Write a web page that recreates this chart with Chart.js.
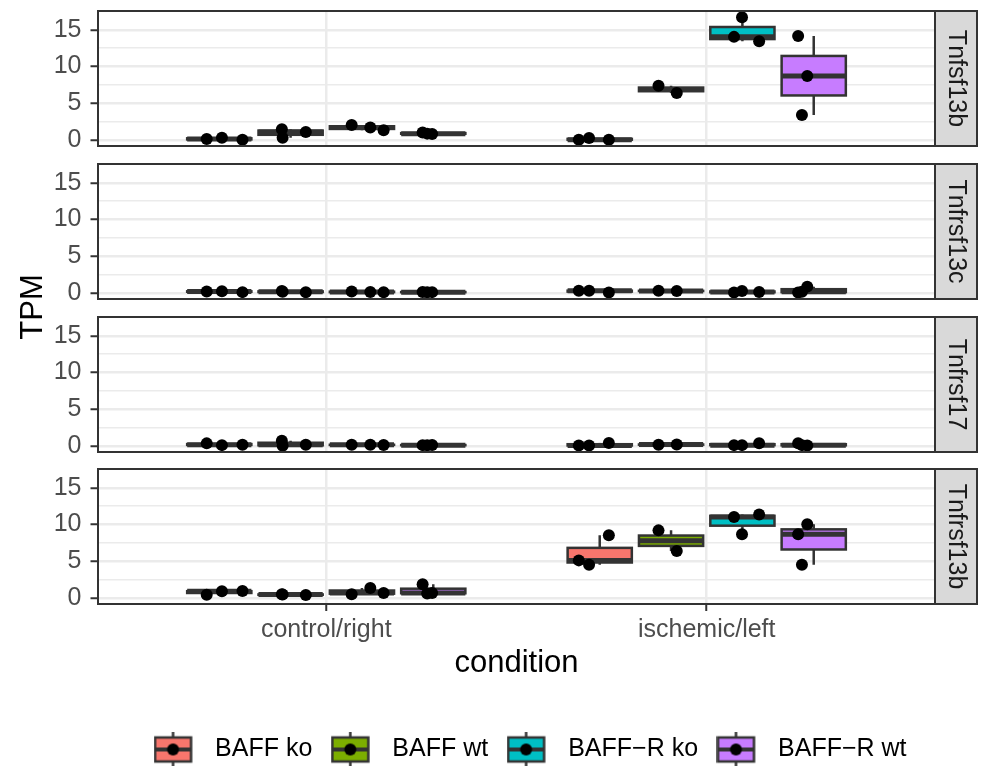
<!DOCTYPE html>
<html>
<head>
<meta charset="utf-8">
<script src="https://cdn.jsdelivr.net/npm/chart.js@4.4.0/dist/chart.umd.min.js"></script>
<style>
  html, body { margin: 0; padding: 0; background: #fff; overflow: hidden; }
  #wrap { position: relative; width: 987px; height: 766px; overflow: hidden; }
  #wrap canvas { position: absolute; left: 0; top: -30px; }
</style>
</head>
<body>
<div id="wrap">
  <canvas id="p0" width="987" height="806"></canvas>
  <canvas id="p1" width="987" height="806"></canvas>
  <canvas id="p2" width="987" height="806"></canvas>
  <canvas id="p3" width="987" height="806"></canvas>
</div>
<script>
const genes = ['Tnfsf13b', 'Tnfrsf13c', 'Tnfrsf17', 'Tnfrsf13b'];
const conditions = ['control/right', 'ischemic/left'];
const groups = ['BAFF ko', 'BAFF wt', 'BAFF\u2212R ko', 'BAFF\u2212R wt'];
const yBreaks = [0, 5, 10, 15];
const yMinor = [2.5, 7.5, 12.5];

// condition index of every sample, one row per group
const sampleCond = [
  [0, 0, 0, 1, 1, 1],
  [0, 0, 0, 1, 1],
  [0, 0, 0, 1, 1, 1],
  [0, 0, 0, 1, 1, 1]
];
// horizontal jitter of each sample (same in all panels)
const jitter = [
  [-0.033, 0.007, 0.061, -0.055, -0.028, 0.024],
  [-0.023, -0.021, 0.040, -0.033, 0.015],
  [-0.027, 0.022, 0.057, -0.022, -0.001, 0.044],
  [-0.028, -0.016, -0.003, -0.041, -0.017, -0.031]
];

// TPM values, one array per group, same order as sampleCond
const tpmTnfsf13b = [
  [0.12, 0.30, 0.00, 0.02, 0.25, 0.02],
  [1.45, 0.30, 1.08, 7.38, 6.38],
  [2.04, 1.67, 1.31, 14.04, 16.73, 13.44],
  [0.99, 0.85, 0.81, 14.17, 8.71, 3.40]
];
const tpmTnfrsf13c = [
  [0.20, 0.22, 0.10, 0.30, 0.30, 0.05],
  [0.25, 0.15, 0.08, 0.28, 0.25],
  [0.20, 0.12, 0.08, 0.05, 0.25, 0.12],
  [0.12, 0.08, 0.10, 0.05, 0.85, 0.15]
];
const tpmTnfrsf17 = [
  [0.34, 0.10, 0.15, 0.05, 0.05, 0.40],
  [0.70, 0.00, 0.15, 0.15, 0.20],
  [0.15, 0.15, 0.12, 0.10, 0.10, 0.35],
  [0.10, 0.08, 0.12, 0.35, 0.05, 0.10]
];
const tpmTnfrsf13b = [
  [0.44, 0.89, 0.93, 5.11, 4.53, 8.52],
  [0.48, 0.45, 0.38, 9.20, 6.38],
  [0.48, 1.34, 0.66, 11.02, 8.66, 11.35],
  [1.84, 0.60, 0.66, 8.66, 10.02, 4.53]
];
const tpm = [tpmTnfsf13b, tpmTnfrsf13c, tpmTnfrsf17, tpmTnfrsf13b];

const colors = ['#F8766D', '#7CAE00', '#00BFC4', '#C77CFF'];
const font = '"Liberation Sans", Arial, sans-serif';
Chart.defaults.font.family = font;

const dodge = 0.75 / groups.length;
const boxW = dodge * 0.9;

// y range like ggplot: data range expanded by 5%
const allVals = tpm.flat(2);
const dataLo = Math.min(...allVals), dataHi = Math.max(...allVals);
const yLo = dataLo - 0.05 * (dataHi - dataLo);
const yHi = dataHi + 0.05 * (dataHi - dataLo);

// layout (page pixels); canvases sit 30px above the page top
const shift = 30;
const canvasH = 806;
const panelTop = [11, 164, 317, 469];
const panelH = 135;
const panelW = 837;
const stripW = 42;
const xLo = 0.4, xHi = 2.6;
const xHiStrip = xHi + (xHi - xLo) * stripW / panelW; // axis runs on under the strip
const textSize = 25, titleSize = 31;
const legendPad = 33.4;
const legendKeyW = 34.1;
const legendH = textSize + legendPad + 10;
const lastAxisH = (canvasH - shift - 4) - legendH - (panelTop[3] + panelH);

function quantile(s, p) {
  const h = (s.length - 1) * p;
  const lo = Math.floor(h);
  const next = lo + 1 < s.length ? s[lo + 1] : s[lo];
  return s[lo] + (h - lo) * (next - s[lo]);
}

function boxStats(vals) {
  const s = vals.slice().sort((a, b) => a - b);
  const q1 = quantile(s, 0.25), med = quantile(s, 0.5), q3 = quantile(s, 0.75);
  const iqr = q3 - q1;
  const lo = Math.min(...s.filter(v => v >= q1 - 1.5 * iqr));
  const hi = Math.max(...s.filter(v => v <= q3 + 1.5 * iqr));
  return { q1, med, q3, lo, hi };
}

const boxplotPlugin = {
  id: 'boxplots',
  beforeDatasetsDraw(chart, args, opts) {
    const { ctx, scales: { x, y } } = chart;
    const data = tpm[opts.gene];
    ctx.save();
    ctx.strokeStyle = '#333333';
    groups.forEach((g, k) => {
      conditions.forEach((c, ci) => {
        const vals = data[k].filter((v, j) => sampleCond[k][j] === ci);
        const st = boxStats(vals);
        const xc = ci + 1 + (k - 1.5) * dodge;
        const xl = x.getPixelForValue(xc - boxW / 2);
        const xr = x.getPixelForValue(xc + boxW / 2);
        const xm = x.getPixelForValue(xc);
        const top = y.getPixelForValue(st.q3), bot = y.getPixelForValue(st.q1);
        ctx.lineWidth = 2.5;
        ctx.beginPath();
        ctx.moveTo(xm, y.getPixelForValue(st.hi)); ctx.lineTo(xm, top);
        ctx.moveTo(xm, bot); ctx.lineTo(xm, y.getPixelForValue(st.lo));
        ctx.stroke();
        ctx.fillStyle = colors[k];
        ctx.fillRect(xl, top, xr - xl, bot - top);
        ctx.strokeRect(xl, top, xr - xl, bot - top);
        ctx.lineWidth = 5;
        const ym = y.getPixelForValue(st.med);
        ctx.beginPath();
        ctx.moveTo(xl, ym); ctx.lineTo(xr, ym);
        ctx.stroke();
      });
    });
    ctx.restore();
  }
};

// panel border plus the grey facet strip on the right
const framePlugin = {
  id: 'frame',
  afterDraw(chart, args, opts) {
    const { ctx, chartArea: a, scales: { x } } = chart;
    const pr = x.getPixelForValue(xHi);
    ctx.save();
    ctx.strokeStyle = '#333333';
    ctx.lineWidth = 2;
    ctx.fillStyle = '#D9D9D9';
    ctx.fillRect(pr, a.top, a.right - pr, a.bottom - a.top);
    ctx.strokeRect(pr, a.top, a.right - pr, a.bottom - a.top);
    ctx.strokeRect(a.left, a.top, pr - a.left, a.bottom - a.top);
    ctx.translate((pr + a.right) / 2, (a.top + a.bottom) / 2);
    ctx.rotate(Math.PI / 2);
    ctx.fillStyle = '#1A1A1A';
    ctx.font = textSize + 'px ' + font;
    ctx.textAlign = 'center';
    ctx.textBaseline = 'middle';
    ctx.fillText(opts.label, 0, 0);
    ctx.restore();
  }
};

// axis titles shared by the facets
const titlesPlugin = {
  id: 'titles',
  afterDraw(chart, args, opts) {
    const { ctx, chartArea: a, scales: { x } } = chart;
    ctx.save();
    ctx.fillStyle = '#000000';
    ctx.font = titleSize + 'px ' + font;
    ctx.textAlign = 'center';
    ctx.textBaseline = 'middle';
    if (opts.xTitle) {
      ctx.fillText(opts.xTitle, x.getPixelForValue((xLo + xHi) / 2), a.bottom + 59);
    }
    if (opts.yTitle) {
      ctx.translate(33, 307 + shift);
      ctx.rotate(-Math.PI / 2);
      ctx.fillText(opts.yTitle, 0, 0);
    }
    ctx.restore();
  }
};

// legend key: small boxplot, drawn left of the image centre
function keyIcon(color) {
  const c = document.createElement('canvas');
  c.width = 64; c.height = 36;
  const g = c.getContext('2d');
  const l = 1.5, w = 36;
  g.strokeStyle = '#333333';
  g.lineWidth = 2.5;
  g.beginPath(); g.moveTo(l + w / 2, 0); g.lineTo(l + w / 2, 36); g.stroke();
  g.fillStyle = color;
  g.fillRect(l, 6, w, 24);
  g.strokeRect(l, 6, w, 24);
  g.lineWidth = 4;
  g.beginPath(); g.moveTo(l, 18); g.lineTo(l + w, 18); g.stroke();
  g.fillStyle = '#000000';
  g.beginPath(); g.arc(l + w / 2, 18, 6, 0, Math.PI * 2); g.fill();
  return c;
}
const icons = colors.map(keyIcon);

function makePanel(i) {
  const last = i === genes.length - 1;
  const datasets = groups.map((g, k) => ({
    label: g,
    data: tpm[i][k].map((v, j) => ({
      x: sampleCond[k][j] + 1 + (k - 1.5) * dodge + jitter[k][j],
      y: v
    })),
    backgroundColor: '#000000',
    borderWidth: 0,
    pointRadius: 6,
    pointHoverRadius: 6
  }));

  return new Chart(document.getElementById('p' + i), {
    type: 'scatter',
    data: { datasets },
    plugins: [boxplotPlugin, framePlugin, titlesPlugin],
    options: {
      responsive: false,
      animation: false,
      events: [],
      layout: {
        autoPadding: false,
        padding: {
          left: 0, right: 10, top: panelTop[i] + shift,
          bottom: last ? 4 : canvasH - panelTop[i] - shift - panelH
        }
      },
      scales: {
        x: {
          type: 'linear',
          min: xLo, max: xHiStrip,
          afterBuildTicks: s => { s.ticks = conditions.map((c, ci) => ({ value: ci + 1 })); },
          afterFit: s => { s.height = last ? lastAxisH : 0; },
          ticks: {
            display: last,
            autoSkip: false,
            maxRotation: 0,
            padding: 4,
            color: '#4D4D4D',
            font: { size: textSize },
            callback: v => conditions[v - 1]
          },
          grid: {
            color: '#EBEBEB',
            lineWidth: 2.5,
            drawTicks: last,
            tickColor: '#333333',
            tickLength: 7,
            tickWidth: 2
          },
          border: { display: false }
        },
        y: {
          min: yLo, max: yHi,
          afterBuildTicks: s => {
            s.ticks = yBreaks.concat(yMinor).sort((a, b) => a - b).map(v => ({ value: v }));
          },
          afterFit: s => { s.width = 98; },
          ticks: {
            autoSkip: false,
            padding: 9,
            color: '#4D4D4D',
            font: { size: textSize },
            callback: v => yBreaks.includes(v) ? String(v) : ''
          },
          grid: {
            color: '#EBEBEB',
            lineWidth: c => yBreaks.includes(c.tick.value) ? 2.5 : 1.5,
            tickColor: c => yBreaks.includes(c.tick.value) ? '#333333' : 'rgba(0,0,0,0)',
            tickLength: 7.5,
            tickWidth: 2
          },
          border: { display: false }
        }
      },
      plugins: {
        tooltip: { enabled: false },
        boxplots: { gene: i },
        frame: { label: genes[i] },
        titles: { yTitle: i === 0 ? 'TPM' : '', xTitle: last ? 'condition' : '' },
        legend: {
          display: last,
          position: 'bottom',
          fullSize: false,
          labels: {
            usePointStyle: true,
            pointStyleWidth: legendKeyW,
            padding: legendPad,
            color: '#000000',
            font: { size: textSize },
            generateLabels: () => groups.map((g, k) => ({
              text: g,
              pointStyle: icons[k],
              fillStyle: colors[k],
              strokeStyle: '#333333',
              lineWidth: 0,
              hidden: false,
              datasetIndex: k
            }))
          }
        }
      }
    }
  });
}

genes.forEach((g, i) => makePanel(i));
</script>
</body>
</html>
